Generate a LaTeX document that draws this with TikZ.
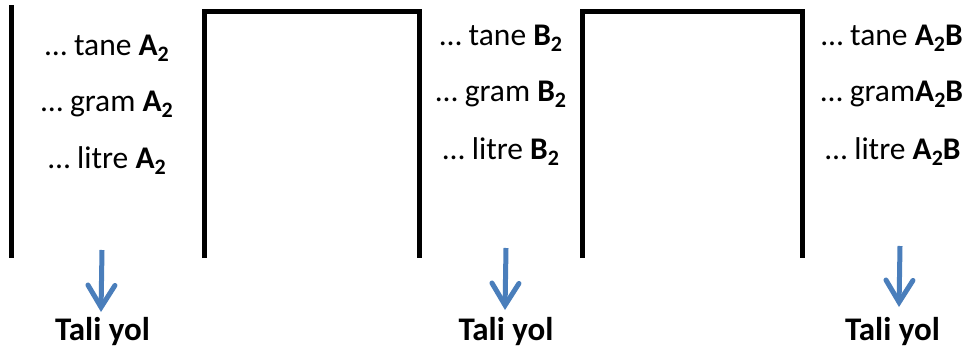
\documentclass[tikz,border=0pt]{standalone}
\usepackage{fontspec}
\setmainfont{Carlito}
\usetikzlibrary{arrows.meta}
\definecolor{arrowblue}{HTML}{4A7EBB}
\newcommand{\sbt}[1]{\raisebox{-0.22em}{\fontsize{22}{24}\selectfont\textbf{#1}}}
\tikzset{
  wall/.style={line width=5pt, line cap=butt, line join=miter},
  lbl/.style={anchor=base, inner sep=0pt, font=\fontsize{31.5}{36}\selectfont},
  outlbl/.style={anchor=base, inner sep=0pt, font=\fontsize{33}{38}\selectfont\bfseries},
  flow/.style={arrowblue, line width=5pt, -{Straight Barb[length=22pt, width=27pt, line cap=round]}}
}
\begin{document}
\begin{tikzpicture}[x=1pt, y=-1pt]
\useasboundingbox (0,0) rectangle (977,348);
% walls
\coordinate (w1t) at (11,5);
\coordinate (w1b) at (11,258);
\draw[wall] (w1t) -- (w1b);
\coordinate (p1a) at (204.5,258);
\coordinate (p1b) at (204.5,11.5);
\coordinate (p1c) at (419.5,11.5);
\coordinate (p1d) at (419.5,258);
\draw[wall] (p1a) -- (p1b) -- (p1c) -- (p1d);
\coordinate (p2a) at (582.5,258);
\coordinate (p2b) at (582.5,11.5);
\coordinate (p2c) at (802.5,11.5);
\coordinate (p2d) at (802.5,258);
\draw[wall] (p2a) -- (p2b) -- (p2c) -- (p2d);
% column 1
\node[lbl] (a1) at (107,55) {… tane \textbf{A}\sbt{2}};
\node[lbl] (a2) at (107,111) {… gram \textbf{A}\sbt{2}};
\node[lbl] (a3) at (107,168) {… litre \textbf{A}\sbt{2}};
% column 2
\node[lbl] (b1) at (501,45) {… tane \textbf{B}\sbt{2}};
\node[lbl] (b2) at (501,101) {… gram \textbf{B}\sbt{2}};
\node[lbl] (b3) at (501,159) {… litre \textbf{B}\sbt{2}};
% column 3
\node[lbl] (c1) at (892,45) {… tane \textbf{A}\sbt{2}\textbf{B}};
\node[lbl] (c2) at (892,101) {… gram\textbf{A}\sbt{2}\textbf{B}};
\node[lbl] (c3) at (893,159) {… litre \textbf{A}\sbt{2}\textbf{B}};
% outlets
\node[outlbl] (o1) at (102.5,340) {Tali yol};
\node[outlbl] (o2) at (506,340) {Tali yol};
\node[outlbl] (o3) at (892.5,340) {Tali yol};
\coordinate (s1) at (102,250);
\coordinate (s2) at (506,248);
\coordinate (s3) at (900,246);
\coordinate (t1) at (101,312);
\coordinate (t2) at (505,310);
\coordinate (t3) at (899,307);
\draw[flow] (s1) -- (t1);
\draw[flow] (s2) -- (t2);
\draw[flow] (s3) -- (t3);
\end{tikzpicture}
\end{document}
